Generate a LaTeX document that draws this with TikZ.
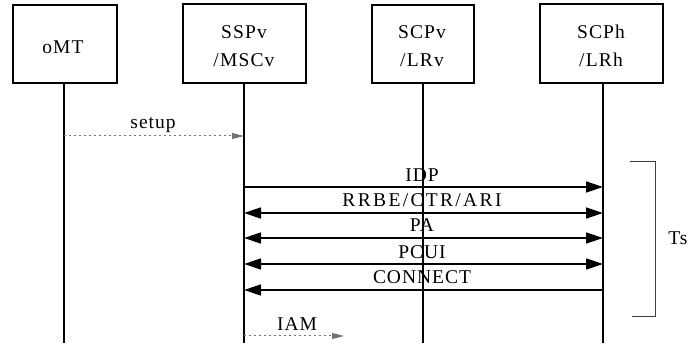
\documentclass[tikz,border=0pt]{standalone}
\usepackage{fontspec}
\setmainfont{Liberation Serif}
\usetikzlibrary{arrows.meta}
\tikzset{
  ent/.style={draw, line width=1.6pt, inner sep=0pt},
  etxt/.style={inner sep=0pt, anchor=base, font=\fontsize{19.5}{28}\selectfont\addfontfeatures{LetterSpace=6}},
  life/.style={line width=1.5pt},
  msg/.style={line width=1.5pt, -{Triangle[length=17pt,width=11pt]}},
  bmsg/.style={line width=1.5pt, {Triangle[length=17pt,width=11pt]}-{Triangle[length=17pt,width=11pt]}},
  dmsg/.style={line width=1pt, black!55, dash pattern=on 2pt off 3pt, -{Triangle[length=12pt,width=6pt]}},
  lbl/.style={inner sep=0pt, anchor=base, font=\fontsize{19.5}{22}\selectfont\addfontfeatures{LetterSpace=5}},
  brk/.style={line width=0.8pt, black!75}
}
\begin{document}
\begin{tikzpicture}[x=1pt,y=-1pt]
\useasboundingbox (0,0) rectangle (689,347);
% entities
\node[ent, minimum width=104pt, minimum height=78pt] (omt) at (65,44) {};
\node[ent, minimum width=123pt, minimum height=79pt] (ssp) at (244.5,43.5) {};
\node[ent, minimum width=102pt, minimum height=78pt] (scpv) at (423,44) {};
\node[ent, minimum width=123pt, minimum height=79pt] (scph) at (601.5,43.5) {};
\node[etxt] (omtT) at (63,53.5) {oMT};
\node[etxt, align=center] (sspT) at (244,66.5) {SSPv\\/MSCv};
\node[etxt, align=center] (scpvT) at (422,66.5) {SCPv\\/LRv};
\node[etxt, align=center] (scphT) at (601,66.5) {SCPh\\/LRh};
% lifeline ends
\coordinate (eomt) at (64,343);
\coordinate (essp) at (244,343);
\coordinate (escpv) at (423,343);
\coordinate (escph) at (603,343);
\draw[life] (omt.south -| eomt) -- (eomt);
\draw[life] (ssp.south -| essp) -- (essp);
\draw[life] (scpv.south -| escpv) -- (escpv);
\draw[life] (scph.south -| escph) -- (escph);
% message levels
\coordinate (ysetup) at (0,136);
\coordinate (yidp) at (0,187);
\coordinate (yrrbe) at (0,213);
\coordinate (ypa) at (0,238);
\coordinate (ypcui) at (0,264);
\coordinate (ycon) at (0,290);
\coordinate (yiam) at (0,336);
\coordinate (iamend) at (344,336);
% messages
\draw[dmsg] (eomt |- ysetup) -- (essp |- ysetup);
\node[lbl] (tsetup) at (153,129) {setup};
\draw[msg] (essp |- yidp) -- (escph |- yidp);
\node[lbl] (tidp) at (422,182) {IDP};
\draw[bmsg] (essp |- yrrbe) -- (escph |- yrrbe);
\node[lbl, font=\fontsize{19.5}{22}\selectfont\addfontfeatures{LetterSpace=12}] (trrbe) at (422,206.5) {RRBE/CTR/ARI};
\draw[bmsg] (essp |- ypa) -- (escph |- ypa);
\node[lbl] (tpa) at (422,231.5) {PA};
\draw[bmsg] (essp |- ypcui) -- (escph |- ypcui);
\node[lbl] (tpcui) at (422,258.5) {PCUI};
\draw[msg] (escph |- ycon) -- (essp |- ycon);
\node[lbl] (tcon) at (422,283.5) {CONNECT};
\draw[dmsg] (essp |- yiam) -- (iamend);
\node[lbl] (tiam) at (297,330.5) {IAM};
% bracket
\coordinate (b1) at (630,161);
\coordinate (b2) at (655,161);
\coordinate (b3) at (655,316);
\coordinate (b4) at (632,316);
\draw[brk] (b1) -- (b2) -- (b3) -- (b4);
\node[lbl] (ts) at (678,244.5) {Ts};
\end{tikzpicture}
\end{document}
